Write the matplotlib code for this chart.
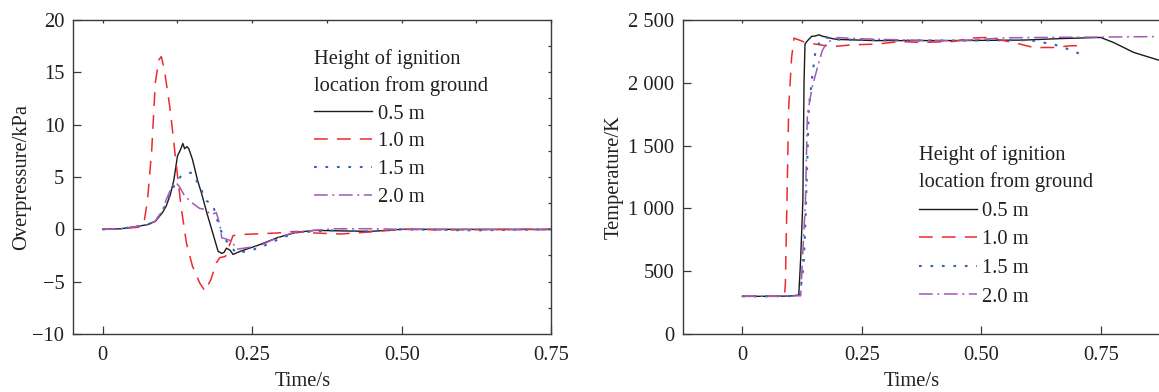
import numpy as np
import matplotlib.pyplot as plt
from matplotlib.ticker import FuncFormatter

plt.rcParams["font.family"] = ["Liberation Serif", "DejaVu Serif"]
plt.rcParams["font.size"] = 14.8
plt.rcParams["text.color"] = "#231f20"
plt.rcParams["axes.labelcolor"] = "#231f20"
plt.rcParams["xtick.color"] = "#231f20"
plt.rcParams["ytick.color"] = "#231f20"

labels = ["0.5 m", "1.0 m", "1.5 m", "2.0 m"]
legend_title = "Height of ignition\nlocation from ground"

# Overpressure (kPa) vs time (s)
p_t_05 = [0, 0.03, 0.06, 0.075, 0.088, 0.1, 0.106, 0.113, 0.119, 0.125, 0.13, 0.134,
          0.137, 0.141, 0.144, 0.15, 0.159, 0.165, 0.174, 0.184, 0.193, 0.199, 0.203,
          0.207, 0.213, 0.218, 0.23, 0.261, 0.292, 0.323, 0.354, 0.4, 0.447, 0.5, 0.6, 0.75]
p_05 = [0, 0.05, 0.3, 0.45, 0.76, 1.6, 2.2, 3.3, 4.7, 7.0, 7.6, 8.2,
        7.7, 7.9, 7.7, 6.7, 4.6, 3.5, 1.6, -0.35, -2.1, -2.3, -2.2,
        -1.8, -2.0, -2.4, -2.1, -1.5, -0.8, -0.3, -0.1, -0.15, -0.2, 0, 0, 0]

p_t_10 = [0, 0.03, 0.06, 0.069, 0.075, 0.082, 0.088, 0.094, 0.098, 0.103, 0.113, 0.122,
          0.131, 0.14, 0.15, 0.162, 0.171, 0.181, 0.19, 0.196, 0.205, 0.212, 0.218, 0.23,
          0.292, 0.323, 0.354, 0.397, 0.447, 0.5, 0.57, 0.75]
p_10 = [0, 0.05, 0.2, 0.6, 2.8, 7.6, 14.0, 16.2, 16.5, 15.3, 11.4, 6.7,
        2.2, -1.3, -3.5, -5.1, -5.9, -4.8, -3.2, -2.7, -2.6, -1.5, -0.6, -0.5,
        -0.35, -0.2, -0.35, -0.45, -0.25, 0, -0.05, 0]

p_t_15 = [0, 0.03, 0.06, 0.075, 0.088, 0.1, 0.106, 0.119, 0.131, 0.144, 0.15, 0.162,
          0.174, 0.184, 0.19, 0.196, 0.203, 0.212, 0.224, 0.261, 0.292, 0.323, 0.385,
          0.447, 0.5, 0.62, 0.75]
p_15 = [0, 0.05, 0.3, 0.45, 0.8, 1.7, 2.5, 4.1, 5.1, 5.4, 5.4, 4.1,
        2.7, 2.4, 1.2, 0.1, -0.8, -1.5, -2.3, -1.8, -1.0, -0.3, -0.1,
        -0.2, 0, -0.1, 0]

p_t_20 = [0, 0.03, 0.06, 0.075, 0.088, 0.1, 0.106, 0.116, 0.122, 0.128, 0.137, 0.15,
          0.162, 0.171, 0.181, 0.19, 0.196, 0.199, 0.205, 0.215, 0.224, 0.261, 0.292,
          0.323, 0.385, 0.447, 0.5, 0.75]
p_20 = [0, 0.05, 0.3, 0.45, 0.8, 1.8, 2.8, 4.1, 4.5, 4.1, 3.2, 2.5,
        2.0, 1.9, 1.4, 1.6, 0.45, -0.8, -0.9, -1.1, -1.9, -1.6, -0.8,
        -0.25, 0.05, 0.06, 0, -0.05]

# Temperature (K) vs time (s)
T_t_05 = [0, 0.05, 0.1, 0.118, 0.122, 0.1266, 0.129, 0.131, 0.136, 0.145, 0.152, 0.16,
          0.168, 0.175, 0.19, 0.2, 0.279, 0.434, 0.588, 0.665, 0.749, 0.776, 0.818, 0.87]
T_05 = [300, 300, 302, 310, 600, 1064, 2000, 2308, 2334, 2370, 2372, 2382,
        2370, 2365, 2350, 2345, 2336, 2336, 2340, 2352, 2361, 2321, 2242, 2181]

T_t_10 = [0, 0.05, 0.088, 0.09, 0.093, 0.097, 0.103, 0.108, 0.132, 0.143, 0.163, 0.184,
          0.233, 0.282, 0.33, 0.372, 0.442, 0.477, 0.511, 0.567, 0.609, 0.651, 0.686, 0.717]
T_10 = [300, 300, 300, 400, 1000, 1805, 2200, 2356, 2321, 2313, 2303, 2287,
        2303, 2308, 2329, 2321, 2329, 2356, 2361, 2321, 2281, 2281, 2295, 2295]

T_t_15 = [0, 0.05, 0.1, 0.12, 0.128, 0.132, 0.136, 0.139, 0.146, 0.153, 0.163, 0.175,
          0.2, 0.3, 0.45, 0.6, 0.651, 0.679, 0.706]
T_15 = [300, 300, 302, 305, 534, 905, 1400, 1805, 2043, 2255, 2334, 2360,
        2345, 2338, 2336, 2340, 2306, 2271, 2230]

T_t_20 = [0, 0.05, 0.1, 0.122, 0.125, 0.132, 0.136, 0.146, 0.157, 0.167, 0.177, 0.191,
          0.2, 0.25, 0.35, 0.45, 0.55, 0.65, 0.75, 0.87]
T_20 = [300, 300, 302, 305, 534, 1064, 1750, 1964, 2122, 2255, 2321, 2347,
        2360, 2350, 2340, 2335, 2358, 2362, 2364, 2368]

colors = ["#1a1a1a", "#ee2a2e", "#2f66b8", "#a05bb3"]
styles = [dict(linestyle="-", lw=1.0),
          dict(linestyle=(0, (9, 6)), lw=1.1),
          dict(linestyle=(0, (1.3, 4.2)), lw=1.5),
          dict(linestyle=(0, (9, 3, 1.3, 3)), lw=1.1)]

spine_col = "#3a3a3a"


def style_axes(ax):
    for s in ax.spines.values():
        s.set_color(spine_col)
        s.set_linewidth(1.0)
    ax.tick_params(direction="in", length=5.5, width=0.9, pad=6, color=spine_col)
    ax.tick_params(axis="x", pad=9)
    sec = ax.secondary_xaxis("top")
    sec.set_xticks(np.arange(0, 0.876, 0.125))
    sec.tick_params(direction="in", length=2.5, width=0.9, labeltop=False, color=spine_col)
    sec.spines["top"].set_visible(False)


def add_legend(ax, anchor, spacing):
    leg = ax.legend(title=legend_title, loc="upper left", bbox_to_anchor=anchor,
                    frameon=False, borderpad=0, borderaxespad=0, handlelength=2.8,
                    handletextpad=0.27, labelspacing=spacing, alignment="left",
                    fontsize=14.8, title_fontsize=14.8)
    leg.get_title().set_linespacing(1.45)
    return leg


fig = plt.figure(figsize=(11.59, 3.92), dpi=100)
ax1 = fig.add_axes([0.0628, 0.148, 0.4128, 0.801])
ax2 = fig.add_axes([0.5889, 0.148, 0.4127, 0.801])

# Left: overpressure
series_p = [(p_t_05, p_05), (p_t_10, p_10), (p_t_15, p_15), (p_t_20, p_20)]
for (t, v), c, st, lab in zip(series_p, colors, styles, labels):
    ax1.plot(t, v, color=c, label=lab, **st)
ax1.set_xlim(-0.05, 0.75)
ax1.set_ylim(-10, 20)
ax1.set_xticks([0, 0.25, 0.5, 0.75])
ax1.set_xticklabels(["0", "0.25", "0.50", "0.75"])
ax1.set_yticks(np.arange(-10, 21, 5))
style_axes(ax1)
sec_y = ax1.secondary_yaxis("right")
sec_y.set_yticks(np.arange(-7.5, 20, 2.5))
sec_y.tick_params(direction="in", length=2.5, width=0.9, labelright=False, color=spine_col)
sec_y.spines["right"].set_visible(False)
ax1.set_xlabel("Time/s")
ax1.set_ylabel("Overpressure/kPa")
ax1.xaxis.set_label_coords(0.48, -0.121)
ax1.yaxis.set_label_coords(-0.087, 0.5)
add_legend(ax1, (0.505, 0.907), 0.41)

# Right: temperature
series_T = [(T_t_05, T_05), (T_t_10, T_10), (T_t_15, T_15), (T_t_20, T_20)]
for (t, v), c, st, lab in zip(series_T, colors, styles, labels):
    ax2.plot(t, v, color=c, label=lab, **st)
ax2.set_xlim(-0.125, 0.875)
ax2.set_ylim(0, 2500)
ax2.set_xticks([0, 0.25, 0.5, 0.75])
ax2.set_xticklabels(["0", "0.25", "0.50", "0.75"])
ax2.set_yticks(np.arange(0, 2501, 500))
ax2.yaxis.set_major_formatter(FuncFormatter(lambda v, pos: f"{int(v):,}".replace(",", " ")))
style_axes(ax2)
ax2.spines["right"].set_visible(False)
ax2.set_xlabel("Time/s")
ax2.set_ylabel("Temperature/K")
ax2.xaxis.set_label_coords(0.48, -0.121)
ax2.yaxis.set_label_coords(-0.124, 0.5)
add_legend(ax2, (0.495, 0.60), 0.45)

fig.savefig("out.png", dpi=100)
